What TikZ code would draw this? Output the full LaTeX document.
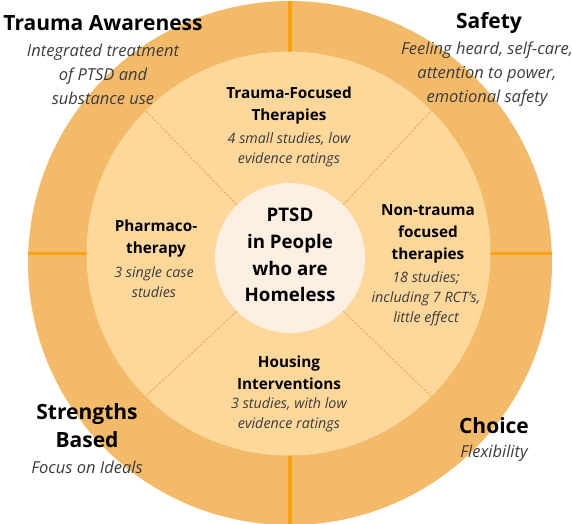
\documentclass[tikz,border=0pt]{standalone}
\usepackage{fontspec}
\setmainfont{Open Sans}
\definecolor{ringc}{HTML}{F3BA69}
\definecolor{innerc}{HTML}{FED79B}
\definecolor{centerc}{HTML}{FDF0E2}
\definecolor{divc}{HTML}{FBA30F}
\definecolor{dashc}{HTML}{F39A5A}
\definecolor{bodyc}{HTML}{3C3C3C}
\tikzset{
  disc/.style={circle, inner sep=0pt, draw=none},
  bigtitle/.style={inner sep=0pt, align=center, text=black, font=\fontsize{21}{28}\selectfont\bfseries},
  bigbody/.style={inner sep=0pt, align=center, text=bodyc, font=\fontsize{16.5}{24}\selectfont\itshape},
  sectitle/.style={inner sep=0pt, align=center, text=black, font=\fontsize{15.3}{22}\selectfont\bfseries},
  secbody/.style={inner sep=0pt, align=center, text=bodyc, font=\fontsize{14.3}{19.8}\selectfont\itshape},
  midtitle/.style={inner sep=0pt, align=center, text=black, font=\fontsize{18.7}{26.7}\selectfont\bfseries},
  divider/.style={draw=divc, line width=3.5pt},
  dashline/.style={draw=dashc, line width=0.7pt, dash pattern=on 2.5pt off 1.5pt}
}
\begin{document}
\begin{tikzpicture}[x=1pt,y=-1pt]
\useasboundingbox (0,0) rectangle (572,523);
\clip (0,0) rectangle (572,523);
\node[disc, fill=ringc, minimum size=524pt] (outer) at (290,263) {};
\node[disc, minimum size=404pt] (innerpos) at (288.5,253.5) {};
\draw[divider] (outer.north) -- (outer.north |- innerpos.center);
\draw[divider] (outer.south) -- (outer.south |- innerpos.center);
\draw[divider] (innerpos.center -| outer.west) -- (innerpos.center);
\draw[divider] (innerpos.center) -- (innerpos.center -| outer.east);
\node[disc, fill=innerc, minimum size=404pt] (inner) at (288.5,253.5) {};
\node[disc, fill=centerc, minimum size=150pt] (mid) at (290,258) {};
\draw[dashline] (mid.45) -- (inner.45);
\draw[dashline] (mid.135) -- (inner.135);
\draw[dashline] (mid.225) -- (inner.225);
\draw[dashline] (mid.315) -- (inner.315);
% corner texts
\node[bigtitle] (tat) at (103,23) {Trauma Awareness};
\node[bigbody] (tab) at (103,74) {Integrated treatment\\of PTSD and\\substance use};
\node[bigtitle] (saft) at (489,23) {Safety};
\node[bigbody] (safb) at (487,74) {Feeling heard, self-care,\\attention to power,\\emotional safety};
\node[bigtitle] (strt) at (87,426) {Strengths\\Based};
\node[bigbody] (strb) at (87,467) {Focus on Ideals};
\node[bigtitle] (chot) at (494,426) {Choice};
\node[bigbody] (chob) at (494,453) {Flexibility};
% sections
\node[sectitle] (tft) at (289,106) {Trauma-Focused\\Therapies};
\node[secbody] (tfb) at (289,149.5) {4 small studies, low\\evidence ratings};
\node[sectitle] (pht) at (156,238.5) {Pharmaco-\\therapy};
\node[secbody] (phb) at (154,282) {3 single case\\studies};
\node[sectitle] (ntt) at (428,234) {Non-trauma\\focused\\therapies};
\node[secbody] (ntb) at (426,298.5) {18 studies;\\including 7 RCT's,\\little effect};
\node[sectitle] (hot) at (289,372.5) {Housing\\Interventions};
\node[secbody] (hob) at (289,415) {3 studies, with low\\evidence ratings};
\node[midtitle] (midt) at (290,255) {PTSD\\in People\\who are\\Homeless};
\end{tikzpicture}
\end{document}
